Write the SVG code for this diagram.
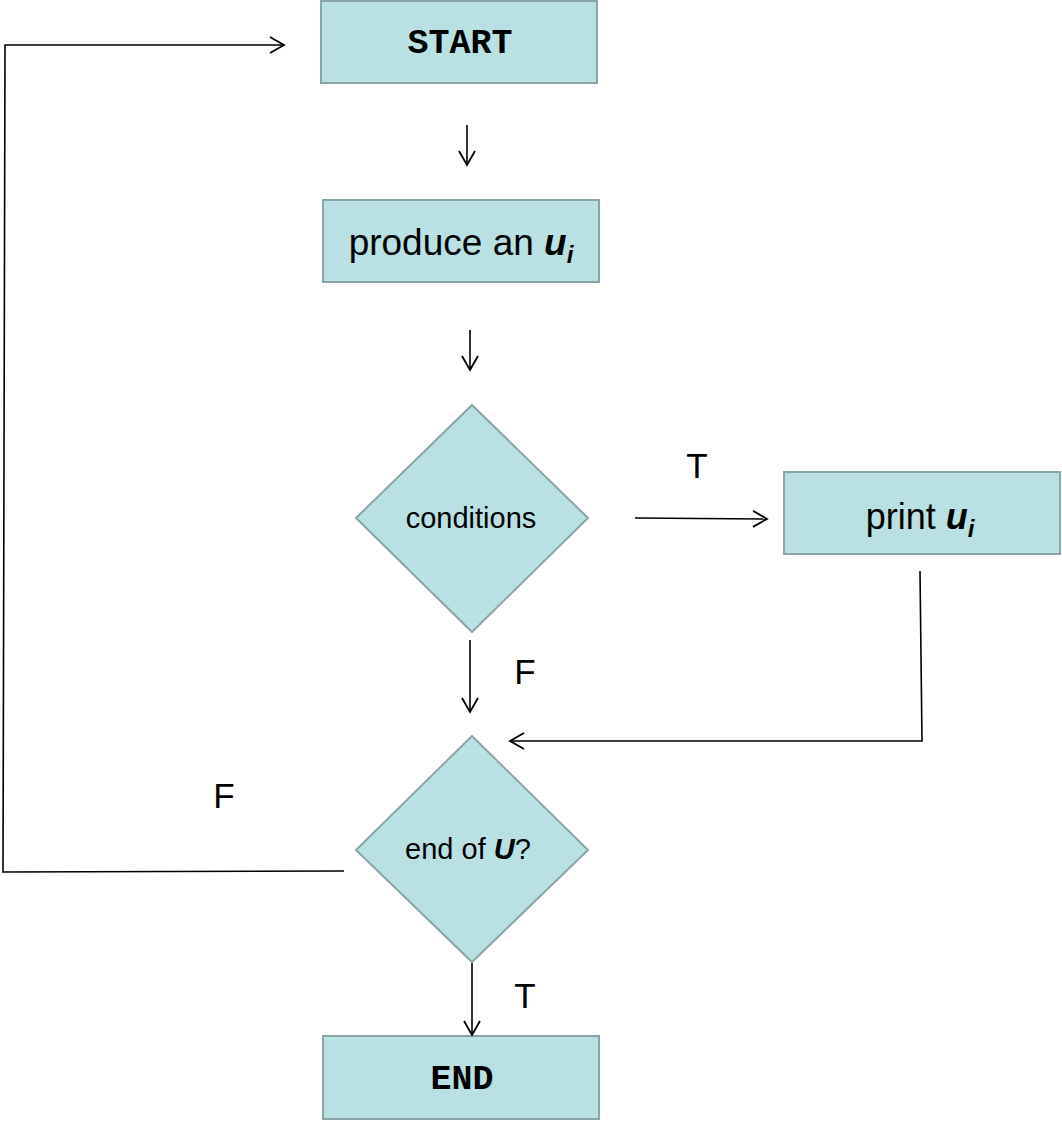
<svg xmlns="http://www.w3.org/2000/svg" width="1062" height="1121" viewBox="0 0 1062 1121">
<style>
.box{fill:#b9e0e3;stroke:#8aa5a8;stroke-width:2}
.mono{font-family:"Liberation Mono","Courier New",monospace;font-weight:bold;font-size:35px;fill:#000}
.sans{font-family:"Liberation Sans",Arial,sans-serif;fill:#000}
.lbl{font-family:"Liberation Sans",Arial,sans-serif;font-size:35px;fill:#000}
.conn{fill:none;stroke:#000;stroke-width:1.6}
</style>
<defs>
<marker id="ah" viewBox="0 0 20 20" refX="18" refY="10" markerWidth="20" markerHeight="20" markerUnits="userSpaceOnUse" orient="auto">
<path d="M4,2 L18,10 L4,18" fill="none" stroke="#000" stroke-width="1.8"/>
</marker>
</defs>
<rect width="1062" height="1121" fill="#fff"/>
<g id="start"><rect class="box" x="321" y="1" width="276" height="82"/><text class="mono" x="460" y="53" text-anchor="middle">START</text></g>
<g id="produce"><rect class="box" x="323" y="200" width="276" height="82"/><text class="sans" font-size="37" x="461" y="255" text-anchor="middle">produce an <tspan font-weight="bold" font-style="italic">u</tspan><tspan font-weight="bold" font-style="italic" font-size="24" dy="8">i</tspan></text></g>
<g id="conditions"><polygon class="box" points="472,405 588,518 472,632 356,518"/><text class="sans" font-size="29" x="471" y="528" text-anchor="middle">conditions</text></g>
<g id="print"><rect class="box" x="784" y="472" width="276" height="82"/><text class="sans" font-size="36" x="920" y="529" text-anchor="middle">print <tspan font-weight="bold" font-style="italic">u</tspan><tspan font-weight="bold" font-style="italic" font-size="24" dy="8">i</tspan></text></g>
<g id="endofU"><polygon class="box" points="472,736 588,850 472,962 356,850"/><text class="sans" font-size="29" x="468" y="859" text-anchor="middle">end of <tspan font-weight="bold" font-style="italic">U</tspan>?</text></g>
<g id="end"><rect class="box" x="323" y="1036" width="276" height="83"/><text class="mono" x="462" y="1089" text-anchor="middle">END</text></g>
<g id="connectors">
<line class="conn" x1="467" y1="125" x2="467" y2="165" marker-end="url(#ah)"/>
<line class="conn" x1="470" y1="330" x2="470" y2="370" marker-end="url(#ah)"/>
<line class="conn" x1="635" y1="518" x2="767" y2="519" marker-end="url(#ah)"/>
<polyline class="conn" points="920,571 922,741 510,741" marker-end="url(#ah)"/>
<line class="conn" x1="470" y1="640" x2="470" y2="712" marker-end="url(#ah)"/>
<polyline class="conn" points="344,871 3,872 5,45 284,45" marker-end="url(#ah)"/>
<line class="conn" x1="472" y1="963" x2="472" y2="1035" marker-end="url(#ah)"/>
<text class="lbl" x="697" y="478" text-anchor="middle">T</text>
<text class="lbl" x="525" y="684" text-anchor="middle">F</text>
<text class="lbl" x="224" y="808" text-anchor="middle">F</text>
<text class="lbl" x="525" y="1008" text-anchor="middle">T</text>
</g>
</svg>
